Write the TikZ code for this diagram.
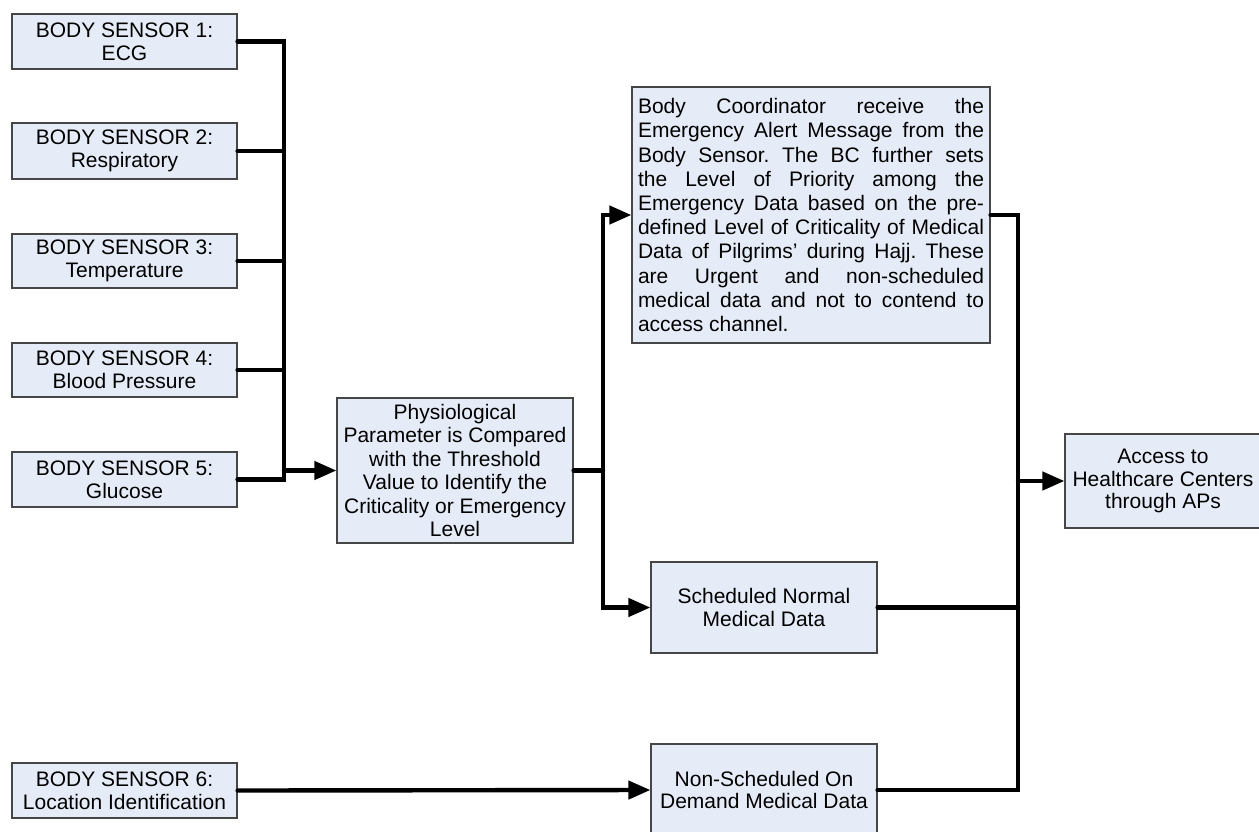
\documentclass[tikz,border=0pt]{standalone}
\usepackage{fontspec}
\setmainfont{Liberation Sans}
\usetikzlibrary{arrows.meta}
\definecolor{boxfill}{RGB}{230,236,247}
\definecolor{boxline}{RGB}{70,70,70}
\tikzset{
  box/.style={draw=boxline, fill=boxfill, line width=0.6pt, inner sep=0pt, align=center,
    font=\fontsize{10.5}{11.3}\selectfont},
  conn/.style={line width=2.2pt, line cap=round, line join=miter},
  arr/.style={conn, -{Triangle[length=11pt,width=9pt]}}
}
\begin{document}
\begin{tikzpicture}[x=0.5pt,y=-0.5pt]
\useasboundingbox (0,0) rectangle (1259,831);
% sensors
\node[box, minimum width=225*0.5pt, minimum height=55*0.5pt] (s1) at (124.5,41.5) {BODY SENSOR 1:\\ECG};
\node[box, minimum width=225*0.5pt, minimum height=56*0.5pt] (s2) at (124.5,151) {BODY SENSOR 2:\\Respiratory};
\node[box, minimum width=225*0.5pt, minimum height=54*0.5pt] (s3) at (124.5,261) {BODY SENSOR 3:\\Temperature};
\node[box, minimum width=225*0.5pt, minimum height=54*0.5pt] (s4) at (124.5,370) {BODY SENSOR 4:\\Blood Pressure};
\node[box, minimum width=225*0.5pt, minimum height=55*0.5pt] (s5) at (124.5,479.5) {BODY SENSOR 5:\\Glucose};
\node[box, minimum width=225*0.5pt, minimum height=55*0.5pt] (s6) at (124.5,790.5) {BODY SENSOR 6:\\Location Identification};
% physiological
\node[box, minimum width=236*0.5pt, minimum height=145*0.5pt, font=\fontsize{10.5}{11.7}\selectfont] (phys) at (455,470.5)
  {Physiological\\Parameter is Compared\\with the Threshold\\Value to Identify the\\Criticality or Emergency\\Level};
% body coordinator
\node[box, minimum width=358*0.5pt, minimum height=256*0.5pt, text width=173pt, align=justify,
      font=\fontsize{10.5}{12.1}\selectfont\frenchspacing] (bc) at (811,215)
  {Body Coordinator receive the\linebreak
   Emergency Alert Message from the\linebreak
   Body Sensor. The BC further sets\linebreak
   the Level of Priority among the\linebreak
   Emergency Data based on the pre-\linebreak
   defined Level of Criticality of Medical\linebreak
   Data of Pilgrims’ during Hajj. These\linebreak
   are Urgent and non-scheduled\linebreak
   medical data and not to contend to\linebreak
   access channel.};
% scheduled / non-scheduled
\node[box, minimum width=226*0.5pt, minimum height=91*0.5pt] (sch) at (764,607.5) {Scheduled Normal\\Medical Data};
\node[box, minimum width=226*0.5pt, minimum height=92*0.5pt] (non) at (764,790) {Non-Scheduled On\\Demand Medical Data};
% access
\node[box, minimum width=196*0.5pt, minimum height=94*0.5pt] (acc) at (1163,481) {Access to\\Healthcare Centers\\through APs};
% bus coordinates
\coordinate (busL) at (284,470.5);
\coordinate (busLb) at (284,479.5);
\coordinate (busM) at (603,470.5);
\coordinate (busR) at (1018,481);
\coordinate (busRb) at (1018,790);
% left bus
\draw[conn] (s1.east) -| (busLb) -- (s5.east);
\draw[conn] (s2.east) -- (s2.east -| busL);
\draw[conn] (s3.east) -- (s3.east -| busL);
\draw[conn] (s4.east) -- (s4.east -| busL);
\draw[arr] (busL) -- (phys.west);
% middle bus
\draw[conn] (phys.east) -- (busM);
\draw[arr] (busM) |- (bc.west);
\draw[arr] (busM) |- (sch.west);
% s6
\draw[arr] (s6.east) -- (non.west);
% right bus
\draw[conn] (bc.east) -| (busRb) -- (non.east);
\draw[conn] (sch.east) -- (sch.east -| busR);
\draw[arr] (busR) -- (acc.west);
\end{tikzpicture}
\end{document}
